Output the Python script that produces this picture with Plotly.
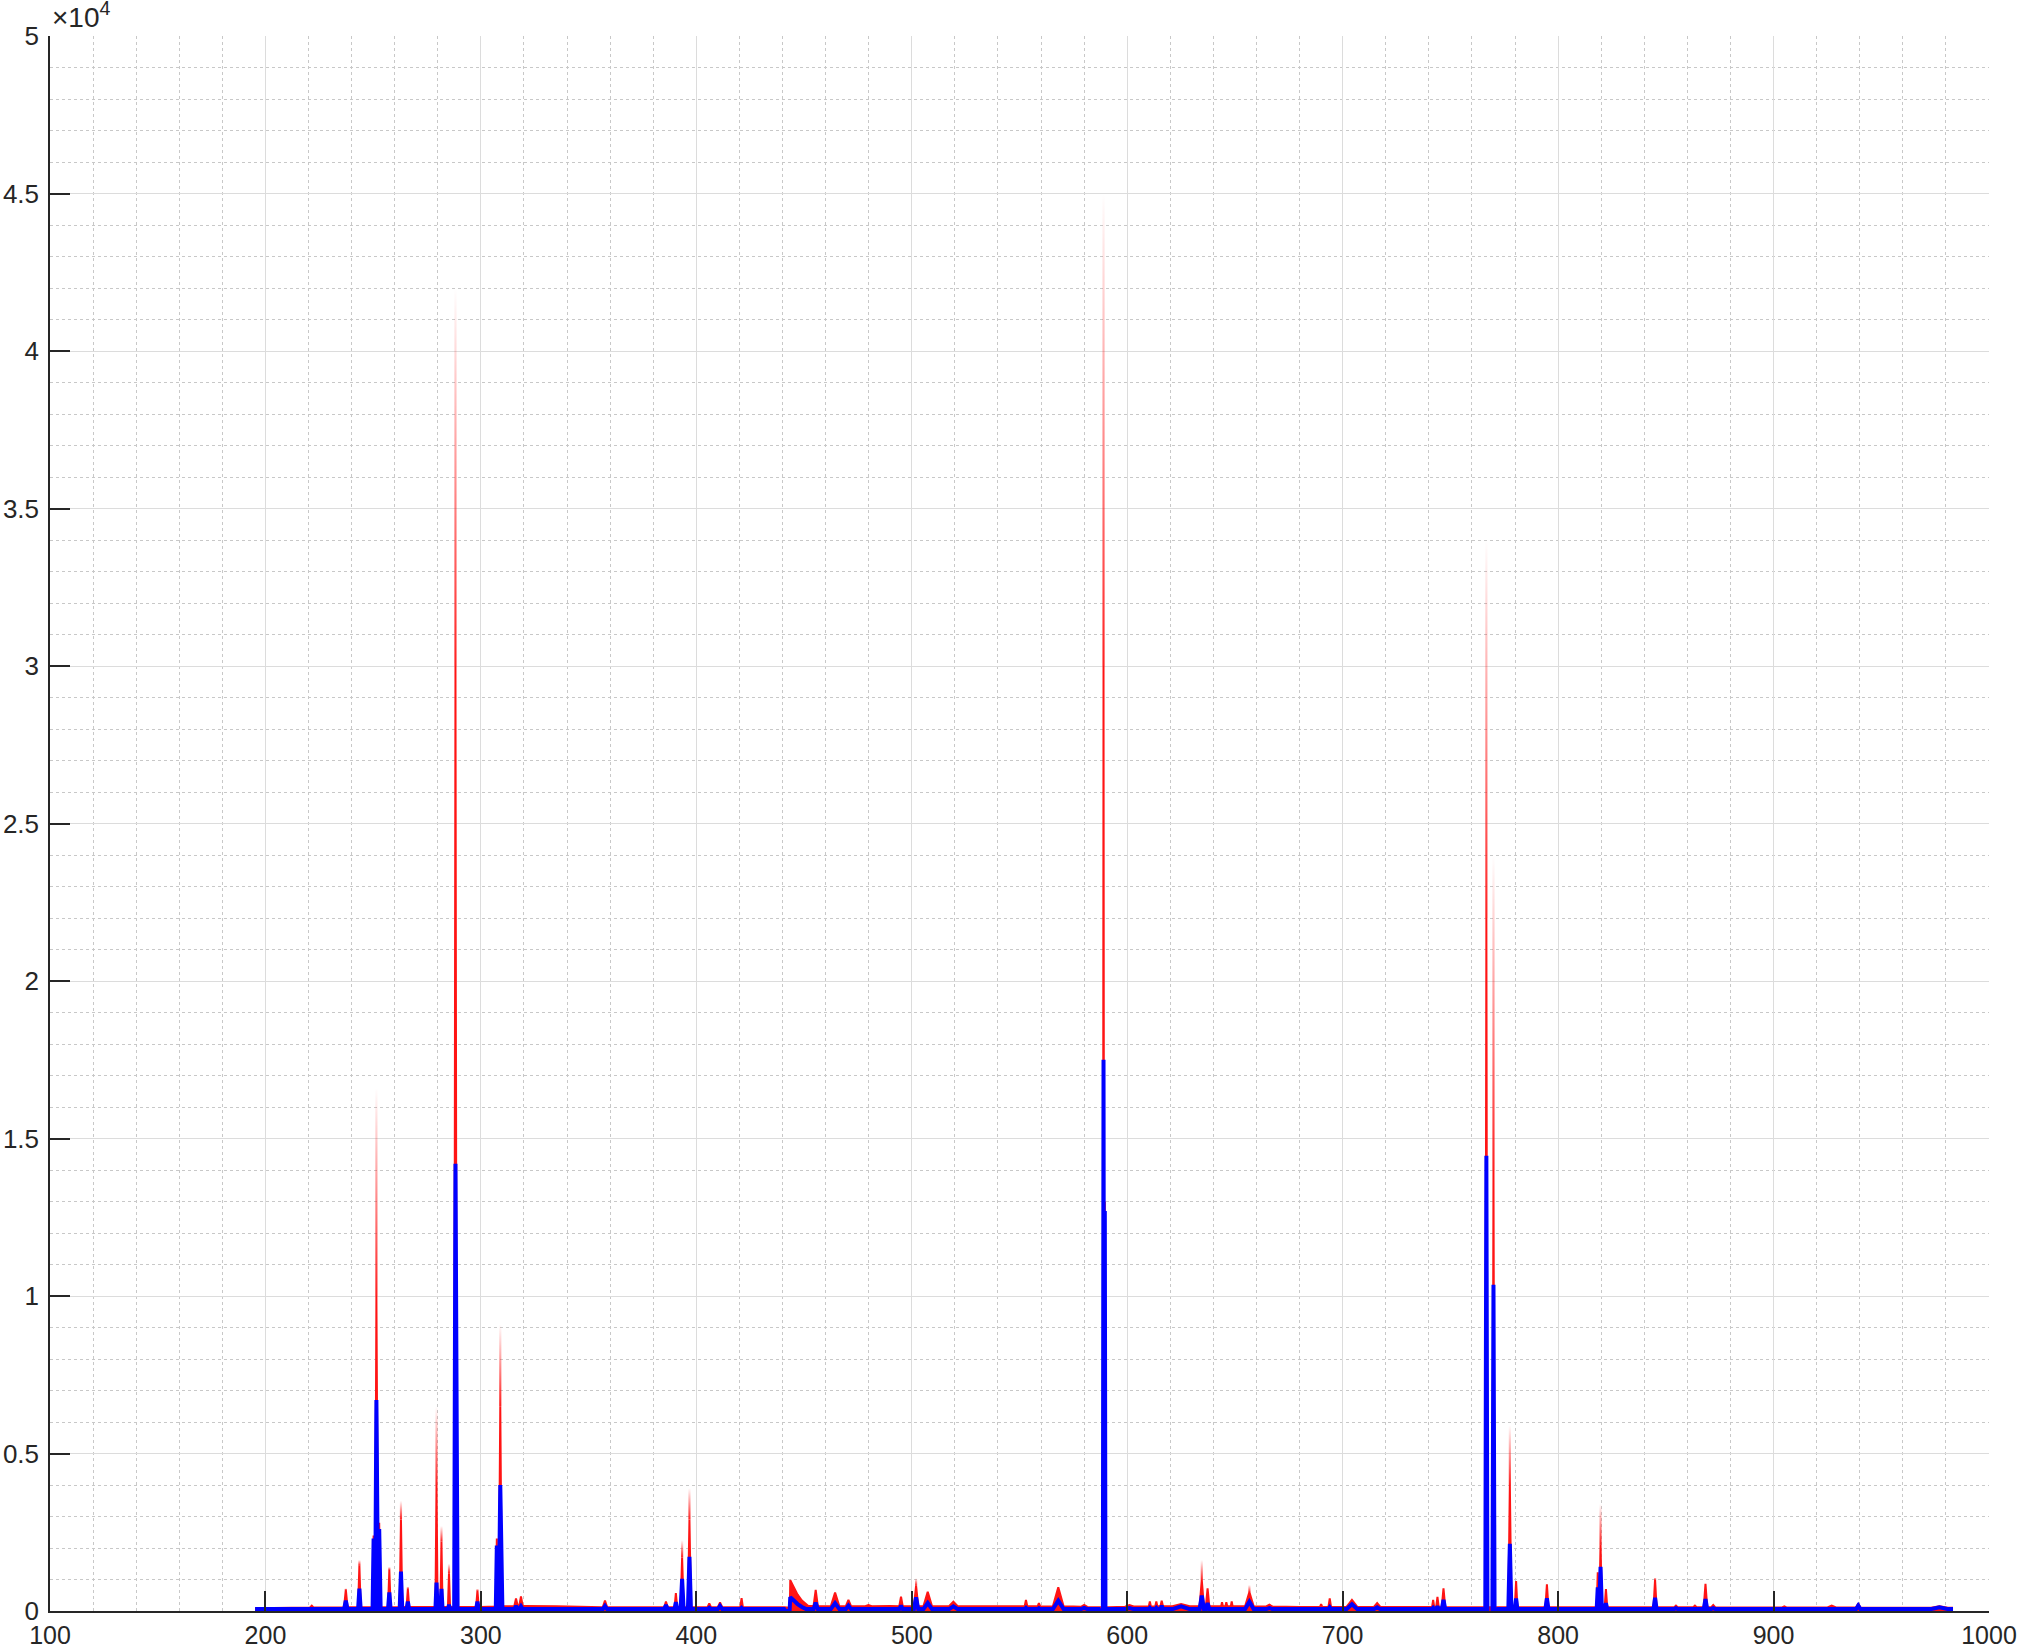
import numpy as np
import plotly.graph_objects as go

# ---------------- data ----------------
# emission lines: wavelength (nm), blue (mean) height, red solid height, red faint tip, half-width (nm)
PEAK_WL = [221.5, 237.3, 243.6, 250.2, 251.5, 252.8, 257.5, 262.9, 266.1, 279.4, 281.7, 285.2,
           288.2, 298.4, 307.4, 309.0, 316.3, 318.6, 357.6, 385.9, 390.5, 393.4, 396.8, 406.0,
           411.0, 421.0, 455.4, 464.4, 470.6, 479.9, 495.0, 502.0, 507.4, 519.3, 553.0, 559.0,
           568.0, 580.0, 589.0, 589.6, 601.0, 610.5, 613.5, 616.0, 625.0, 634.6, 637.3, 644.0,
           646.0, 648.5, 656.7, 666.0, 690.0, 694.0, 704.3, 716.0, 742.0, 744.0, 746.8, 766.7,
           770.0, 777.6, 780.5, 794.8, 818.4, 819.7, 822.2, 845.0, 854.7, 863.5, 868.4, 872.0,
           905.0, 927.0, 939.3, 977.0]
PEAK_BLUE = [70, 330, 710, 2300, 6700, 2600, 590, 1250, 300, 900, 700, 200,
             14200, 300, 2080, 4000, 160, 150, 160, 190, 280, 1020, 1720, 100,
             160, 100, 265, 250, 170, 90, 170, 434, 254, 150, 100, 90,
             328, 100, 17500, 12700, 90, 100, 100, 170, 150, 487, 250, 80,
             80, 80, 296, 90, 80, 120, 216, 120, 100, 150, 350, 14450,
             10360, 2130, 400, 400, 750, 1400, 250, 420, 90, 90, 380, 90,
             90, 90, 170, 120]
PEAK_RED = [170, 680, 1450, 2400, 10000, 2800, 1300, 2900, 700, 4000, 2200, 1200,
            30000, 650, 2300, 6500, 400, 460, 330, 300, 570, 1700, 2900, 240,
            270, 410, 667, 582, 350, 190, 455, 800, 614, 296, 350, 250,
            752, 190, 30000, 13000, 190, 300, 300, 330, 220, 980, 720, 280,
            280, 300, 600, 200, 220, 400, 350, 250, 350, 450, 720, 22000,
            14000, 4000, 950, 850, 1230, 2100, 700, 1000, 170, 170, 860, 190,
            150, 170, 243, 150]
PEAK_RED_TIP = [170, 720, 1620, 2400, 16600, 2800, 1400, 3500, 780, 6500, 2700, 1500,
                42000, 700, 2300, 9100, 400, 460, 330, 300, 570, 2250, 3900, 240,
                270, 410, 667, 582, 350, 190, 455, 1040, 614, 296, 350, 250,
                752, 190, 45000, 13000, 190, 300, 300, 330, 220, 1620, 720, 280,
                280, 300, 826, 200, 220, 400, 350, 250, 350, 450, 720, 34000,
                24000, 5900, 950, 850, 1230, 3400, 700, 1060, 170, 170, 860, 190,
                150, 170, 243, 150]
PEAK_HALFWIDTH = [0.8, 0.8, 0.6, 0.5, 0.6, 0.5, 0.6, 0.6, 0.6, 0.5, 0.5, 0.5,
                  0.6, 0.6, 0.5, 0.7, 0.8, 0.8, 1.0, 0.8, 0.6, 0.7, 0.7, 0.8,
                  1.0, 0.6, 1.0, 2.0, 1.2, 1.5, 0.8, 1.0, 2.0, 2.0, 0.6, 0.6,
                  2.5, 1.5, 0.3, 0.3, 2.0, 0.5, 0.5, 0.6, 4.0, 1.0, 0.8, 0.4,
                  0.4, 0.4, 2.0, 1.5, 0.5, 0.6, 2.5, 1.5, 0.5, 0.6, 0.8, 0.5,
                  0.5, 0.7, 0.6, 0.7, 0.5, 0.6, 0.6, 0.7, 0.8, 0.8, 0.8, 1.0,
                  1.0, 2.0, 1.0, 4.0]

# baselines (wavelength, value)
BLUE_BASE_WL = [195.2, 248.8, 249.4, 253.5, 254.2, 286.6, 287.3, 289.2, 289.9, 306.4, 307.0,
                310.0, 310.6, 440.8, 441.5, 443.3, 443.6, 445.0, 447.0, 449.0, 451.0, 586.8,
                587.6, 590.6, 591.4, 764.5, 765.3, 771.3, 772.2, 983.3]
BLUE_BASE = [60, 60, -60, -60, 60, 60, -40, -40, 60, 60, 0,
             0, 60, 60, 0, 0, 440, 330, 220, 130, 60, 60,
             -60, -60, 60, 60, -70, -70, 60, 60]
RED_BASE_WL = [195.2, 215, 230, 248.8, 254, 270, 290, 300, 311, 320, 335, 345, 360, 380, 400,
               420, 440.8, 443.4, 443.6, 445, 447, 449, 452, 460, 490, 530, 560, 575, 586.8,
               591.4, 600, 620, 640, 660, 680, 700, 730, 764.5, 772.2, 790, 830, 880, 930, 983.3]
RED_BASE = [90, 110, 115, 120, 120, 130, 130, 125, 150, 160, 150, 130, 120, 120, 120,
            120, 120, 100, 980, 800, 520, 330, 160, 150, 155, 150, 150, 140, 120,
            120, 140, 150, 150, 150, 130, 130, 125, 120, 120, 120, 120, 115, 115, 100]

X_TICKS = [100, 200, 300, 400, 500, 600, 700, 800, 900, 1000]
Y_TICKS = [0, 5000, 10000, 15000, 20000, 25000, 30000, 35000, 40000, 45000, 50000]
Y_TICK_TEXT = ["0", "0.5", "1", "1.5", "2", "2.5", "3", "3.5", "4", "4.5", "5"]


def build_line(base_wl, base_val, heights):
    pk = np.array(PEAK_WL)
    hw = np.array(PEAK_HALFWIDTH)
    xs, ys = [], []
    for bx, by in zip(base_wl, base_val):
        if not np.any((bx > pk - hw) & (bx < pk + hw)):
            xs.append(bx)
            ys.append(by)
    for wl, h, w in zip(PEAK_WL, heights, PEAK_HALFWIDTH):
        xs += [wl - w, wl, wl + w]
        ys += [float(np.interp(wl - w, base_wl, base_val)), h,
               float(np.interp(wl + w, base_wl, base_val))]
    order = np.argsort(np.array(xs), kind="stable")
    return np.array(xs)[order], np.array(ys)[order]


blue_x, blue_y = build_line(BLUE_BASE_WL, BLUE_BASE, PEAK_BLUE)
red_x, red_y = build_line(RED_BASE_WL, RED_BASE, PEAK_RED)

fig = go.Figure()

RED = "rgb(255,20,20)"
fig.add_trace(go.Scatter(x=red_x, y=red_y, mode="lines", line=dict(color=RED, width=2),
                         fill="tozeroy", fillcolor=RED, hoverinfo="skip"))

# faint fading tips of the red spectra
TIP_HW = 0.5
for wl, r, t in zip(PEAK_WL, PEAK_RED, PEAK_RED_TIP):
    if t > r:
        fig.add_trace(go.Scatter(
            x=[wl - TIP_HW, wl + TIP_HW, wl + TIP_HW, wl - TIP_HW, wl - TIP_HW],
            y=[r, r, t, t, r], mode="lines", line=dict(width=0), fill="toself",
            fillgradient=dict(type="vertical", start=r, stop=t,
                              colorscale=[[0, "rgba(255,20,20,0.95)"], [1, "rgba(255,20,20,0)"]]),
            hoverinfo="skip"))

fig.add_trace(go.Scatter(x=blue_x, y=blue_y, mode="lines",
                         line=dict(color="#0000ff", width=4), hoverinfo="skip"))

AXC = "#262626"
FONT = dict(family="Liberation Sans, Arial, sans-serif", size=26, color=AXC)
XFONT = dict(family="Liberation Sans, Arial, sans-serif", size=25, color=AXC)
fig.update_xaxes(range=[100, 1000], tickvals=X_TICKS, ticks="inside", ticklen=20,
                 tickwidth=1.5, tickcolor=AXC, showline=True, linecolor=AXC, linewidth=1.5,
                 showgrid=True, gridcolor="#dcdcdc", gridwidth=1.3, zeroline=False,
                 tickfont=XFONT, ticklabelstandoff=1, automargin=False,
                 minor=dict(dtick=20, showgrid=True, gridcolor="#c8c8c8", griddash="dot",
                            gridwidth=1, ticks=""))
fig.update_yaxes(range=[0, 50000], tickvals=Y_TICKS, ticktext=Y_TICK_TEXT, ticks="inside",
                 ticklen=20, tickwidth=1.5, tickcolor=AXC, showline=True, linecolor=AXC,
                 linewidth=1.5, showgrid=True, gridcolor="#dcdcdc", gridwidth=1.3,
                 zeroline=False, tickfont=FONT, ticklabelstandoff=4, automargin=False,
                 minor=dict(dtick=1000, showgrid=True, gridcolor="#c8c8c8", griddash="dot",
                            gridwidth=1, ticks=""))

fig.add_annotation(text="×10<sup>4</sup>", xref="paper", yref="paper", x=0, y=1,
                   xanchor="left", yanchor="bottom", xshift=0, yshift=1, showarrow=False,
                   font=dict(family="Liberation Sans, Arial, sans-serif", size=28, color=AXC))

fig.update_layout(width=2020, height=1651, margin=dict(l=50, r=31, t=36, b=40),
                  plot_bgcolor="white", paper_bgcolor="white", showlegend=False)

# remove the default page margin so the figure fills the window exactly
fig.write_html("out.html", config={"displayModeBar": False},
               post_script="document.body.style.margin='0px';"
                           "document.body.style.overflow='hidden';")
